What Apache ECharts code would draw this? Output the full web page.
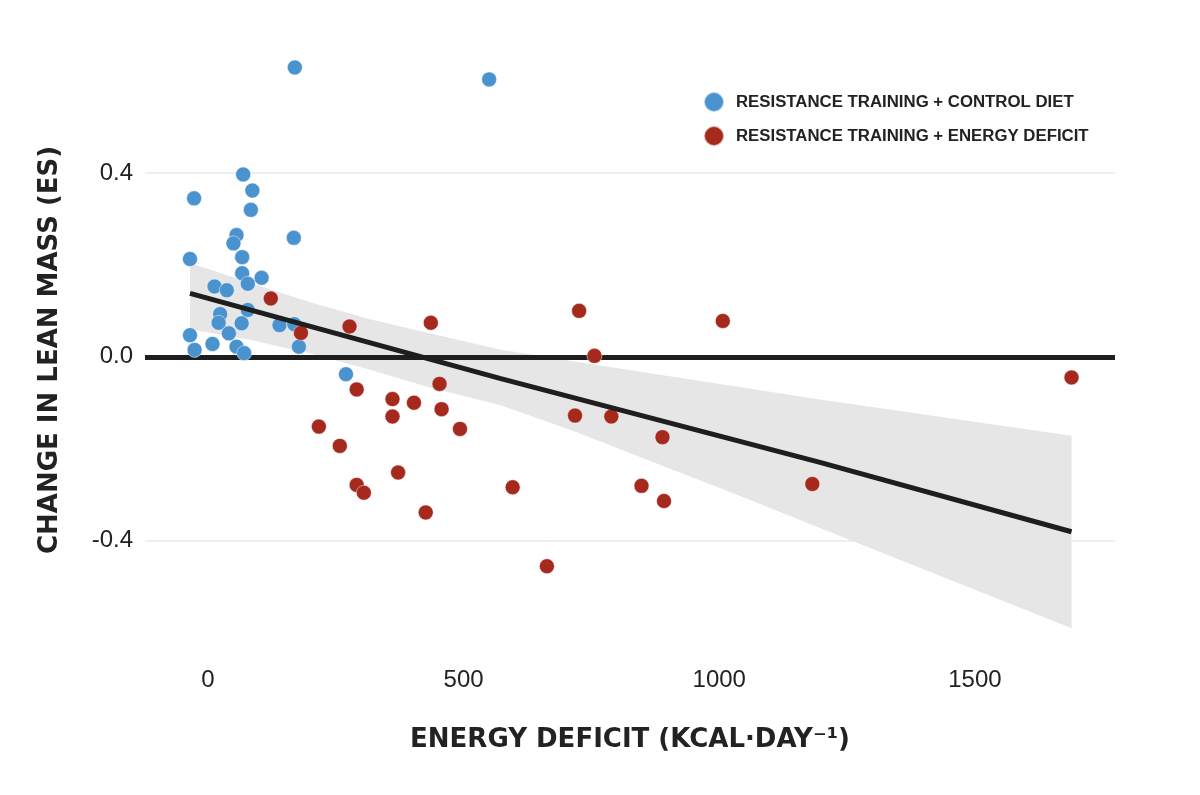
<!DOCTYPE html>
<html>
<head>
<meta charset="utf-8">
<script src="https://cdn.jsdelivr.net/npm/echarts@6/dist/echarts.min.js"></script>
<style>
html,body{margin:0;padding:0;background:#fff;}
#chart{width:1200px;height:795px;}
</style>
</head>
<body>
<div id="chart"></div>
<script>
// ---- data ----
const seriesNames = ['RESISTANCE TRAINING + CONTROL DIET', 'RESISTANCE TRAINING + ENERGY DEFICIT'];
const xTicks = [0, 500, 1000, 1500];
const yTicks = [-0.4, 0, 0.4];
const xTitle = 'ENERGY DEFICIT (KCAL\u00B7DAY\u207B\u00B9)';
const yTitle = 'CHANGE IN LEAN MASS (ES)';

const controlDiet = [
  [69,0.397],[87,0.362],[-27,0.345],[84,0.320],[56,0.265],[50,0.247],[168,0.259],
  [-35,0.213],[67,0.217],[67,0.182],[105,0.172],[78,0.159],[13,0.153],[37,0.145],
  [78,0.102],[24,0.093],[21,0.074],[66,0.073],[140,0.069],[169,0.071],[-35,0.047],
  [41,0.051],[-26,0.015],[9,0.028],[56,0.022],[71,0.008],[178,0.022],[270,-0.038],
  [170,0.630],[550,0.604]
];
const energyDeficit = [
  [123,0.127],[182,0.052],[277,0.066],[436,0.074],[291,-0.071],[361,-0.092],[403,-0.100],
  [453,-0.059],[457,-0.114],[361,-0.130],[493,-0.157],[217,-0.152],[258,-0.194],[372,-0.252],
  [291,-0.279],[305,-0.296],[426,-0.339],[726,0.100],[1007,0.078],[756,0.002],[718,-0.128],
  [789,-0.130],[889,-0.175],[596,-0.284],[848,-0.281],[892,-0.314],[663,-0.456],[1689,-0.045],
  [1182,-0.277]
];
const fitLine = [[-35,0.138],[571,-0.047],[1197,-0.230],[1689,-0.381]];
const bandX     = [-35, 82, 200, 317, 434, 571, 720, 865, 1030, 1197, 1689];
const bandUpper = [0.204, 0.161, 0.119, 0.082, 0.051, 0.016, -0.011, -0.036, -0.064, -0.093, -0.172];
const bandLower = [0.060, 0.037, 0.007, -0.028, -0.067, -0.105, -0.164, -0.227, -0.298, -0.373, -0.591];

// ---- chart ----
const chart = echarts.init(document.getElementById('chart'), null, {renderer: 'canvas'});
const FONT = '"Liberation Sans", Arial, Helvetica, sans-serif';
const TITLE_FONT = '"DejaVu Sans", sans-serif';
const BLUE = '#4a93cf';
const RED = '#a6291d';

chart.setOption({
  animation: false,
  backgroundColor: '#ffffff',
  grid: {left: 145, width: 970, top: 35.3, height: 629.2, containLabel: false},
  legend: {
    left: 698, top: 86, orient: 'vertical', itemGap: 12,
    itemWidth: 20, itemHeight: 20, icon: 'circle',
    data: seriesNames,
    textStyle: {fontFamily: FONT, fontWeight: 'bold', fontSize: 16.8, color: '#222', padding: [0,0,0,7]}
  },
  xAxis: {
    type: 'value', min: -123, max: 1774,
    name: xTitle, nameLocation: 'middle', nameGap: 63,
    nameTextStyle: {fontFamily: TITLE_FONT, fontWeight: 'bold', fontSize: 26, color: '#222'},
    axisLine: {show: false}, axisTick: {show: false}, splitLine: {show: false},
    axisLabel: {customValues: xTicks, margin: 4, fontFamily: FONT, fontSize: 24, color: '#222',
      formatter: v => String(v)}
  },
  yAxis: {
    type: 'value', min: -0.67, max: 0.7,
    name: yTitle, nameLocation: 'middle', nameGap: 82, nameRotate: 90,
    nameTextStyle: {fontFamily: TITLE_FONT, fontWeight: 'bold', fontSize: 26, color: '#222'},
    axisLine: {show: false},
    axisTick: {show: false, customValues: yTicks},
    splitLine: {show: true, lineStyle: {color: '#e8e8e8', width: 1.5}},
    axisLabel: {customValues: yTicks, margin: 12, fontFamily: FONT, fontSize: 24, color: '#222',
      formatter: v => v.toFixed(1)}
  },
  series: [
    {
      type: 'custom', name: 'band', silent: true, z: 1,
      data: [[0, 0]],
      renderItem: function (params, api) {
        const pts = [];
        for (let i = 0; i < bandX.length; i++) pts.push(api.coord([bandX[i], bandUpper[i]]));
        for (let i = bandX.length - 1; i >= 0; i--) pts.push(api.coord([bandX[i], bandLower[i]]));
        return {type: 'polygon', shape: {points: pts}, style: {fill: '#e6e6e6'}};
      },
      markLine: {
        silent: true, symbol: 'none', z: 5, label: {show: false},
        lineStyle: {color: '#1e1e1e', width: 5, type: 'solid'},
        data: [{yAxis: 0}]
      }
    },
    {
      type: 'scatter', name: seriesNames[0], z: 10, data: controlDiet, symbolSize: 15,
      itemStyle: {color: BLUE, opacity: 1, borderColor: 'rgba(255,255,255,0.6)', borderWidth: 0.8}
    },
    {
      type: 'scatter', name: seriesNames[1], z: 10, data: energyDeficit, symbolSize: 15,
      itemStyle: {color: RED, opacity: 1, borderColor: 'rgba(255,255,255,0.6)', borderWidth: 0.8}
    },
    {
      type: 'line', name: 'fit', z: 12, data: fitLine, symbol: 'none', silent: true,
      lineStyle: {color: '#1e1e1e', width: 5}
    }
  ]
});
</script>
</body>
</html>
